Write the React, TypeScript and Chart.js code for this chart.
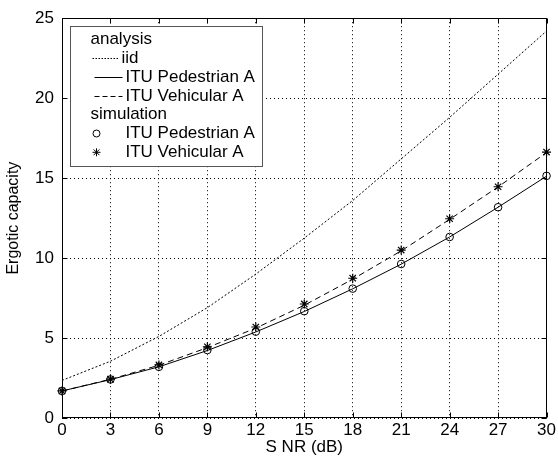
import { useEffect, useRef } from "react";
import { Chart, registerables } from "chart.js";

Chart.register(...registerables);

const snr = [0, 3, 6, 9, 12, 15, 18, 21, 24, 27, 30];
const iidAnalysis = [2.35, 3.55, 5.1, 6.9, 9.0, 11.25, 13.6, 16.2, 18.8, 21.5, 24.2];
const pedAnalysis = [1.69, 2.4, 3.2, 4.22, 5.38, 6.66, 8.08, 9.62, 11.32, 13.18, 15.12];
const vehAnalysis = [1.69, 2.42, 3.3, 4.4, 5.62, 7.05, 8.68, 10.45, 12.42, 14.45, 16.6];
const pedSim = [1.69, 2.41, 3.2, 4.25, 5.4, 6.68, 8.09, 9.63, 11.32, 13.18, 15.14];
const vehSim = [1.69, 2.43, 3.32, 4.45, 5.69, 7.13, 8.74, 10.5, 12.46, 14.46, 16.63];
const xTicks = [0, 3, 6, 9, 12, 15, 18, 21, 24, 27, 30];
const yTicks = [0, 5, 10, 15, 20, 25];

const xTitle = "S NR (dB)";
const yTitle = "Ergotic capacity";
const legendHeaders = ["analysis", "simulation"];
const legendLabels = ["iid", "ITU Pedestrian A", "ITU Vehicular A", "ITU Pedestrian A", "ITU Vehicular A"];

const FONT = '"Liberation Sans", Arial, sans-serif';

const pts = (ys: number[]) => snr.map((x, i) => ({ x, y: ys[i] }));

const framePlugin = {
  id: "frame",
  afterDatasetsDraw(chart: any) {
    const { ctx, chartArea: a } = chart;
    const xs = chart.scales.x;
    const ys = chart.scales.y;
    ctx.save();
    ctx.strokeStyle = "#000";
    ctx.lineWidth = 1;
    ctx.setLineDash([]);
    const L = Math.round(a.left) + 0.5;
    const R = Math.round(a.right) - 0.5;
    const T = Math.round(a.top) + 0.5;
    const B = Math.round(a.bottom) - 0.5;
    ctx.strokeRect(L, T, R - L, B - T);
    const tl = 5;
    ctx.beginPath();
    xTicks.forEach((v) => {
      const px = Math.round(xs.getPixelForValue(v)) + 0.5;
      ctx.moveTo(px, B);
      ctx.lineTo(px, B - tl);
      ctx.moveTo(px, T);
      ctx.lineTo(px, T + tl);
    });
    yTicks.forEach((v) => {
      const py = Math.round(ys.getPixelForValue(v)) + 0.5;
      ctx.moveTo(L, py);
      ctx.lineTo(L + tl, py);
      ctx.moveTo(R, py);
      ctx.lineTo(R - tl, py);
    });
    ctx.stroke();
    ctx.restore();
  },
};

const legendPlugin = {
  id: "matlabLegend",
  afterDraw(chart: any) {
    const { ctx, chartArea: a } = chart;
    const bx = Math.round(a.left) + 8.5;
    const by = Math.round(a.top) + 8.5;
    const bw = 192;
    const bh = 140;
    ctx.save();
    ctx.fillStyle = "#fff";
    ctx.fillRect(bx, by, bw, bh);
    ctx.strokeStyle = "#555";
    ctx.lineWidth = 1;
    ctx.strokeRect(bx, by, bw, bh);
    ctx.fillStyle = "#000";
    ctx.font = `17px ${FONT}`;
    ctx.textBaseline = "middle";
    const row = (i: number) => by + 13 + i * 18.8;
    const hx = bx + 20;
    const tx = bx + 55;
    ctx.fillText(legendHeaders[0], hx, row(0));
    ctx.fillText(legendHeaders[1], hx, row(4));
    ctx.strokeStyle = "#000";
    const sample = (i: number, dash: number[], start: number, end: number) => {
      ctx.setLineDash(dash);
      ctx.beginPath();
      const y = Math.round(row(i)) + 0.5;
      ctx.moveTo(start, y);
      ctx.lineTo(end, y);
      ctx.stroke();
    };
    sample(1, [1.5, 1.5], bx + 22, bx + 48);
    sample(2, [], bx + 24, bx + 52);
    sample(3, [5, 3], bx + 24, bx + 52);
    ctx.setLineDash([]);
    ctx.fillText(legendLabels[0], bx + 51, row(1));
    ctx.fillText(legendLabels[1], tx, row(2));
    ctx.fillText(legendLabels[2], tx, row(3));
    ctx.fillText(legendLabels[3], tx, row(5));
    ctx.fillText(legendLabels[4], tx, row(6));
    const mx = bx + 26;
    ctx.beginPath();
    ctx.arc(mx, row(5), 3.5, 0, Math.PI * 2);
    ctx.stroke();
    const sy = row(6);
    const r = 4;
    ctx.beginPath();
    ctx.moveTo(mx - r, sy);
    ctx.lineTo(mx + r, sy);
    ctx.moveTo(mx, sy - r);
    ctx.lineTo(mx, sy + r);
    const d = r * 0.72;
    ctx.moveTo(mx - d, sy - d);
    ctx.lineTo(mx + d, sy + d);
    ctx.moveTo(mx - d, sy + d);
    ctx.lineTo(mx + d, sy - d);
    ctx.stroke();
    ctx.restore();
  },
};

export default function App() {
  const ref = useRef<HTMLCanvasElement>(null);
  useEffect(() => {
    document.body.style.margin = "0";
    const canvas = ref.current!;
    const chart = new Chart(canvas, {
      type: "scatter",
      data: {
        datasets: [
          {
            label: "iid",
            data: pts(iidAnalysis),
            showLine: true,
            borderColor: "#000",
            borderWidth: 1,
            borderDash: [2, 2],
            pointRadius: 0,
            clip: false,
          },
          {
            label: "ITU Pedestrian A (analysis)",
            data: pts(pedAnalysis),
            showLine: true,
            borderColor: "#000",
            borderWidth: 1,
            pointRadius: 0,
            clip: false,
          },
          {
            label: "ITU Vehicular A (analysis)",
            data: pts(vehAnalysis),
            showLine: true,
            borderColor: "#000",
            borderWidth: 1,
            borderDash: [6, 4],
            pointRadius: 0,
            clip: false,
          },
          {
            label: "ITU Pedestrian A (simulation)",
            data: pts(pedSim),
            showLine: false,
            pointStyle: "circle",
            pointRadius: 3.8,
            pointBorderWidth: 1,
            pointBorderColor: "#000",
            pointBackgroundColor: "rgba(0,0,0,0)",
            clip: false,
          },
          {
            label: "ITU Vehicular A (simulation)",
            data: pts(vehSim),
            showLine: false,
            pointStyle: "star",
            pointRadius: 4.5,
            pointBorderWidth: 1.2,
            pointBorderColor: "#000",
            pointBackgroundColor: "#000",
            clip: false,
          },
        ],
      },
      options: {
        animation: false,
        responsive: false,
        events: [],
        layout: { padding: { top: 14, right: 9, left: 0, bottom: 0 } },
        plugins: { legend: { display: false }, tooltip: { enabled: false } },
        scales: {
          x: {
            type: "linear",
            min: 0,
            max: 30,
            afterBuildTicks: (s: any) => {
              s.ticks = xTicks.map((v) => ({ value: v }));
            },
            afterFit: (s: any) => {
              s.height = 50;
            },
            grid: {
              color: "#000",
              lineWidth: 1,
              drawTicks: false,
            },
            border: { display: false, dash: [1, 3] },
            ticks: {
              color: "#000",
              padding: 2,
              maxRotation: 0,
              autoSkip: false,
              font: { family: FONT, size: 17 },
            },
            title: {
              display: true,
              text: xTitle,
              color: "#000",
              padding: { top: 0, bottom: 10 },
              font: { family: FONT, size: 17 },
            },
          },
          y: {
            type: "linear",
            min: 0,
            max: 25,
            afterBuildTicks: (s: any) => {
              s.ticks = yTicks.map((v) => ({ value: v }));
            },
            afterFit: (s: any) => {
              s.width = 62;
            },
            grid: {
              color: "#000",
              lineWidth: 1,
              drawTicks: false,
            },
            border: { display: false, dash: [1, 3] },
            ticks: {
              color: "#000",
              padding: 8,
              autoSkip: false,
              font: { family: FONT, size: 17 },
            },
            title: {
              display: true,
              text: yTitle,
              color: "#000",
              padding: { top: 4, bottom: 0 },
              font: { family: FONT, size: 16 },
            },
          },
        },
      } as any,
      plugins: [framePlugin, legendPlugin],
    });
    return () => chart.destroy();
  }, []);
  return (
    <div style={{ width: 558, height: 468 }}>
      <canvas ref={ref} width={558} height={468} style={{ width: 558, height: 468, display: "block" }} />
    </div>
  );
}
